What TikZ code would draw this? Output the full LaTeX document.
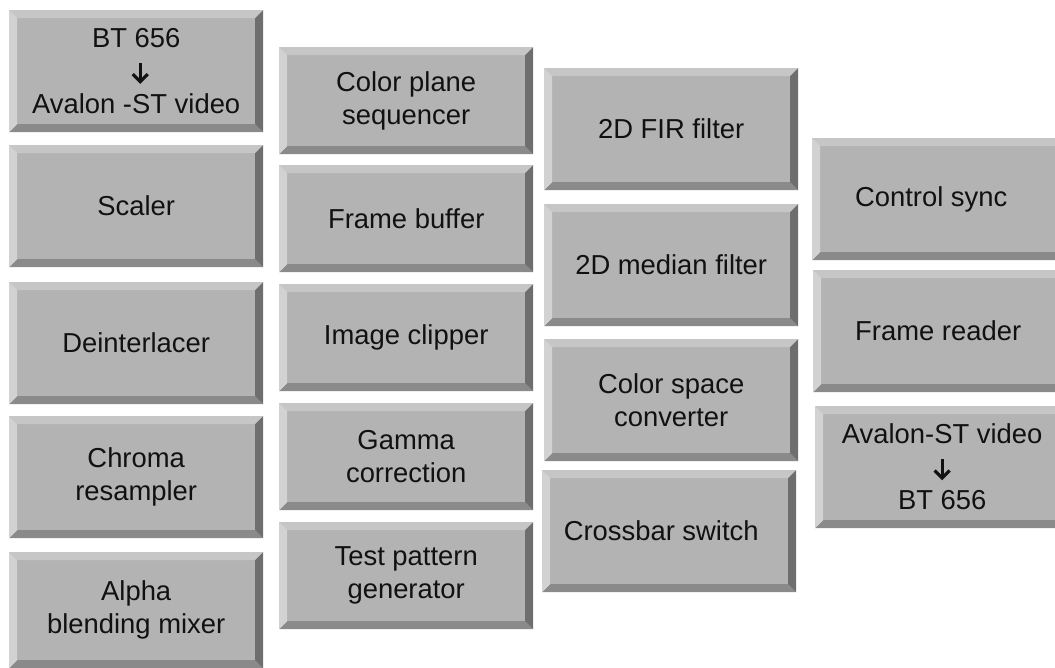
\documentclass[tikz,border=0pt]{standalone}
\usepackage{fontspec}
\setmainfont{Liberation Sans}
\newcommand\boxfont{\fontsize{27.4pt}{33pt}\selectfont}
\newcommand\dnarrow{\tikz[baseline=0pt]{\draw[ink, line width=3.4pt, line cap=butt] (0pt,17.5pt) -- (0pt,-0.5pt);
  \draw[ink, line width=3.2pt, line join=miter] (-7.5pt,6.5pt) -- (0pt,-1pt) -- (7.5pt,6.5pt);}}
\definecolor{face}{HTML}{B3B3B3}
\definecolor{bvtop}{HTML}{C6C6C6}
\definecolor{bvleft}{HTML}{D2D2D2}
\definecolor{bvright}{HTML}{6E6E6E}
\definecolor{bvbot}{HTML}{8A8A8A}
\definecolor{ink}{HTML}{111111}
\tikzset{
  bevbox/.style={minimum width=254pt, minimum height=122pt, inner sep=0pt, anchor=north west,
    fill=face, font=\boxfont, text=ink, align=center,
    path picture={
      \coordinate (SW) at (path picture bounding box.south west);
      \coordinate (NE) at (path picture bounding box.north east);
      \coordinate (NW) at (path picture bounding box.north west);
      \coordinate (SE) at (path picture bounding box.south east);
      \fill[bvtop] (NW) -- (NE) -- ([shift={(-8pt,-8pt)}]NE) -- ([shift={(8pt,-8pt)}]NW) -- cycle;
      \fill[bvbot] (SW) -- (SE) -- ([shift={(-8pt,8pt)}]SE) -- ([shift={(8pt,8pt)}]SW) -- cycle;
      \fill[bvleft] (SW) -- (NW) -- ([shift={(8pt,-8pt)}]NW) -- ([shift={(8pt,8pt)}]SW) -- cycle;
      \fill[bvright] (SE) -- (NE) -- ([shift={(-8pt,-8pt)}]NE) -- ([shift={(-8pt,8pt)}]SE) -- cycle;
    }},
  shortbox/.style={bevbox, minimum height=107pt}
}
\begin{document}
\begin{tikzpicture}[x=1pt,y=-1pt]
\useasboundingbox (0,0) rectangle (1055,668);
\clip (0,0) rectangle (1055,668);
% column 1
\node[bevbox] (bt2av) at (9,10) {BT 656\\\hspace*{8pt}\dnarrow\\Avalon -ST video};
\node[bevbox] (scaler) at (9,145) {Scaler};
\node[bevbox] (deint) at (9,282) {Deinterlacer};
\node[bevbox] (chroma) at (9,416) {Chroma\\resampler};
\node[bevbox, minimum height=116pt] (alpha) at (9,552) {Alpha\\blending mixer};
% column 2
\node[shortbox] (cps) at (279,47) {Color plane\\sequencer};
\node[shortbox] (fbuf) at (279,165) {Frame buffer};
\node[shortbox] (clip) at (279,284) {Image clipper};
\node[shortbox] (gamma) at (279,403) {Gamma\\correction};
\node[shortbox] (tpg) at (279,522) {Test pattern\\generator};
% column 3
\node[bevbox] (fir) at (544,68) {2D FIR filter};
\node[bevbox] (median) at (544,204) {2D median filter};
\node[bevbox] (csc) at (544,339) {Color space\\converter};
\node[bevbox] (xbar) at (542,470) {Crossbar switch\hspace*{16pt}};
% column 4
\node[bevbox] (csync) at (812,138) {Control sync\hspace*{16pt}};
\node[bevbox] (freader) at (813,270) {Frame reader\hspace*{4pt}};
\node[bevbox] (av2bt) at (815,406) {Avalon-ST video\\\dnarrow\\BT 656};
\end{tikzpicture}
\end{document}
